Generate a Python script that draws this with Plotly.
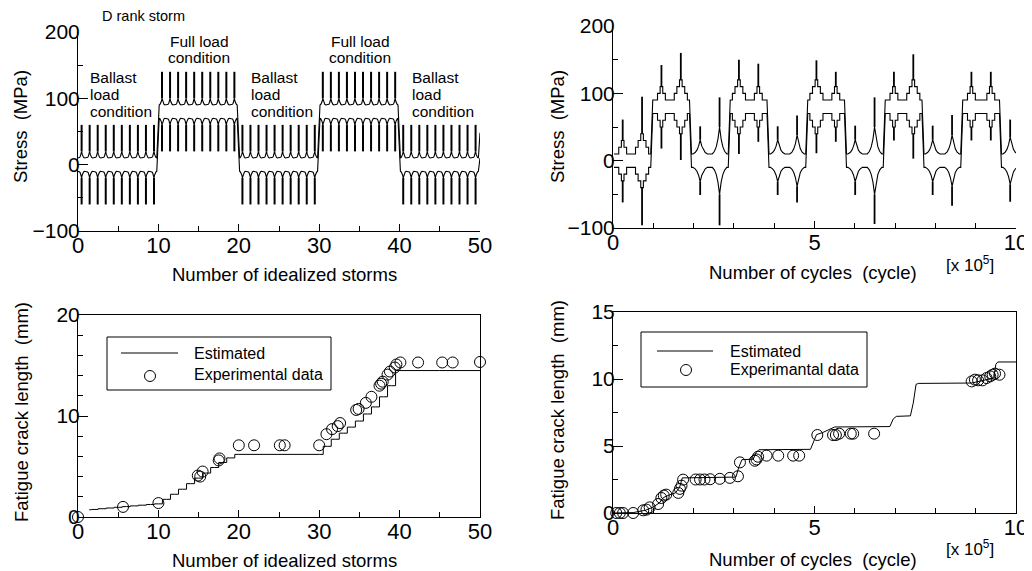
import plotly.graph_objects as go

# page is drawn with an 8 px body margin: figure size and pixel mapping account for it
OFF = 8
W, H = 1032 - OFF, 571 - OFF
FONT = "Liberation Sans, Arial, Helvetica, sans-serif"

# ---------------- data ----------------
# Top-left: stress envelope of the D rank storm sequence (50 idealized storms)
TL_BLOCK_MEAN = [0, 80, 0, 80, 0]          # mean stress per 10-storm block (ballast / full)
TL_STORMS_PER_BLOCK = 10
TL_BASE = 10        # envelope half range between storm peaks (MPa)
TL_CUSP = 20        # envelope half range at storm peak (MPa)
TL_SPIKE = 60       # max amplitude at storm peak (MPa)
TL_PEAK_POS = 0.45  # peak location inside a storm
TL_END_UP, TL_END_DN = 48, 10   # envelope values at the last storm end

# envelope shape around a storm peak (relative half-width, relative rise)
CUSP_DX = [-1.0, -0.7, -0.45, -0.22, 0.0]
CUSP_F = [0.0, 0.1, 0.27, 0.55, 1.0]

# Top-right: stress envelope vs number of cycles (x 1e5)
TR_BLOCK_LEN = 0.9615
TR_BLOCK_MEAN = [0, 80, 0, 80, 0, 80, 0, 80, 0, 80, 0]
TR_BLOCK_KIND = ["step", "step", "cusp", "step", "cusp", "step",
                 "cusp", "step", "cusp", "step", "cusp"]
TR_STORM_POS = [0.25, 0.75]
TR_SPIKE_UP = [61, 95, 142, 160, 51, 94, 150, 144, 51, 67, 149, 132,
               52, 94, 132, 158, 52, 68, 132, 132, 61]
TR_SPIKE_DN = [-62, -96, 18, 1, -51, -96, 10, 28, -51, -62, 11, 28,
               -51, -94, 30, 3, -51, -67, 30, 30, -61]
TR_LEVEL_UP = [30, 40, 110, 120, 31, 50, 120, 110, 31, 38, 120, 110,
               31, 50, 110, 120, 31, 38, 110, 110, 35]
TR_LEVEL_DN = [-30, -40, 50, 40, -31, -50, 40, 50, -31, -38, 40, 50,
               -31, -50, 50, 40, -31, -38, 50, 50, -35]
TR_HALF = 10
TR_STEP = 10

# Bottom-left: crack length vs storms
BL_EST_X = [1.4, 2, 3, 4, 5, 6, 7, 8, 9, 10, 11, 12, 13, 14, 15, 16, 17, 18, 19, 20,
            30, 31, 32, 33, 34, 35, 36, 37, 38, 39, 40, 50]
BL_EST_Y = [0.72, 0.75, 0.82, 0.89, 0.96, 1.03, 1.1, 1.17, 1.24, 1.3, 1.75, 2.25, 2.75,
            3.3, 3.85, 4.35, 4.9, 5.4, 5.85, 6.2,
            6.2, 7.0, 7.7, 8.3, 8.9, 9.5, 10.2, 10.9, 11.9, 13.0, 14.5, 14.5]
BL_EXP_X = [0, 5.6, 10.0, 14.9, 15.2, 15.5, 17.5, 17.6, 20.0, 21.9, 25.1, 25.7, 30.0,
            30.9, 31.6, 32.3, 32.6, 34.6, 34.9, 35.8, 36.5, 37.5, 37.7, 37.9, 38.5,
            38.8, 39.4, 39.6, 40.1, 42.3, 45.3, 46.6, 50.0]
BL_EXP_Y = [0, 1.0, 1.38, 4.1, 4.0, 4.5, 5.6, 5.8, 7.1, 7.1, 7.1, 7.1, 7.1,
            8.2, 8.7, 9.0, 9.3, 10.6, 10.7, 11.3, 11.9, 13.0, 13.2, 13.4, 14.1,
            14.4, 14.8, 15.1, 15.3, 15.3, 15.3, 15.3, 15.35]

# Bottom-right: crack length vs cycles (x 1e5)
BR_EST_X = [0, 0.5, 0.8, 1.0, 1.15, 1.25, 1.4, 1.55, 1.65, 1.72, 3.05, 3.12, 3.2, 3.48,
            3.55, 3.62, 4.9, 4.97, 5.05, 5.2, 5.4, 5.5, 6.87, 6.95, 7.03, 7.38, 7.45,
            7.52, 7.58, 8.9, 9.2, 9.45, 9.5, 9.55, 10.0]
BR_EST_Y = [0, 0.03, 0.2, 0.45, 0.75, 1.15, 1.35, 1.5, 1.9, 2.62, 2.68, 3.4, 3.98, 4.02,
            4.5, 4.72, 4.75, 5.3, 5.85, 6.0, 6.3, 6.42, 6.45, 7.0, 7.21, 7.25, 8.2,
            9.6, 9.67, 9.7, 9.9, 10.1, 11.1, 11.27, 11.27]
BR_EXP_X = [0.08, 0.17, 0.25, 0.5, 0.75, 0.83, 0.91, 1.12, 1.2, 1.26, 1.32, 1.62, 1.66,
            1.70, 1.74, 2.05, 2.16, 2.27, 2.41, 2.65, 2.9, 3.1, 3.15, 3.52, 3.56, 3.6,
            3.81, 4.1, 4.47, 4.62, 5.07, 5.46, 5.53, 5.61, 5.9, 5.96, 6.48,
            8.9, 8.98, 9.06, 9.17, 9.27, 9.36, 9.42, 9.48, 9.59]
BR_EXP_Y = [0, 0, 0, 0, 0.2, 0.25, 0.42, 0.67, 1.12, 1.3, 1.37, 1.5, 1.8,
            2.04, 2.49, 2.5, 2.5, 2.5, 2.52, 2.55, 2.62, 2.74, 3.78, 3.9, 4.0, 4.2,
            4.28, 4.28, 4.28, 4.28, 5.82, 5.82, 5.82, 5.92, 5.92, 5.92, 5.92,
            9.82, 9.95, 9.9, 9.9, 10.07, 10.2, 10.32, 10.4, 10.32]


# ---------------- helpers ----------------
def cusp_path(c, hw, base, peak):
    xs = [c + d * hw for d in CUSP_DX] + [c - d * hw for d in CUSP_DX[-2::-1]]
    ys = [base + f * (peak - base) for f in CUSP_F] + \
         [base + f * (peak - base) for f in CUSP_F[-2::-1]]
    return xs, ys


def step_path(c, w, base, level, step):
    k = max(1, round(abs(level - base) / step))
    sg = 1 if level > base else -1
    xs, ys = [], []
    for j in range(k - 1, -1, -1):
        x = c - (j + 0.5) * w
        xs += [x, x]
        ys += [base + sg * (k - j - 1) * step, base + sg * (k - j) * step]
    for j in range(k):
        x = c + (j + 0.5) * w
        xs += [x, x]
        ys += [base + sg * (k - j) * step, base + sg * (k - j - 1) * step]
    return xs, ys


def px(x):
    return (x - OFF) / W


def py(y):
    return 1 - (y - OFF) / H


# ---------------- top-left series ----------------
tl_ux, tl_uy, tl_dx, tl_dy = [0], [TL_BASE], [0], [-TL_BASE]
tl_sx, tl_su, tl_sd = [], [], []
for b, mean in enumerate(TL_BLOCK_MEAN):
    for j in range(TL_STORMS_PER_BLOCK):
        c = b * TL_STORMS_PER_BLOCK + j + TL_PEAK_POS
        xs, ys = cusp_path(c, 0.35, mean + TL_BASE, mean + TL_CUSP)
        tl_ux += xs; tl_uy += ys
        xs, ys = cusp_path(c, 0.35, mean - TL_BASE, mean - TL_CUSP)
        tl_dx += xs; tl_dy += ys
        tl_sx += [c, c, None]
        tl_su += [mean + TL_CUSP, mean + TL_SPIKE, None]
        tl_sd += [mean - TL_CUSP, mean - TL_SPIKE, None]
tl_ux.append(50); tl_uy.append(TL_END_UP)
tl_dx.append(50); tl_dy.append(TL_END_DN)

# ---------------- top-right series ----------------
tr_ux, tr_uy, tr_dx, tr_dy = [], [], [], []
tr_sx, tr_su, tr_sd = [], [], []
s = 0
for b, (mean, kind) in enumerate(zip(TR_BLOCK_MEAN, TR_BLOCK_KIND)):
    x0 = b * TR_BLOCK_LEN
    bu, bd = mean + TR_HALF, mean - TR_HALF
    tr_ux.append(x0 + 0.025); tr_uy.append(bu)
    tr_dx.append(x0 + 0.025); tr_dy.append(bd)
    for p in TR_STORM_POS:
        if s >= len(TR_SPIKE_UP):
            break
        c = x0 + p * TR_BLOCK_LEN
        if kind == "step":
            xs, ys = step_path(c, 0.065, bu, TR_LEVEL_UP[s], TR_STEP)
            tr_ux += xs; tr_uy += ys
            xs, ys = step_path(c, 0.065, bd, TR_LEVEL_DN[s], TR_STEP)
            tr_dx += xs; tr_dy += ys
        else:
            xs, ys = cusp_path(c, 0.18, bu, TR_LEVEL_UP[s])
            tr_ux += xs; tr_uy += ys
            xs, ys = cusp_path(c, 0.18, bd, TR_LEVEL_DN[s])
            tr_dx += xs; tr_dy += ys
        tr_sx += [c, c, None]
        tr_su += [TR_LEVEL_UP[s], TR_SPIKE_UP[s], None]
        tr_sd += [TR_LEVEL_DN[s], TR_SPIKE_DN[s], None]
        s += 1
    tr_ux.append(x0 + TR_BLOCK_LEN - 0.025); tr_uy.append(bu)
    tr_dx.append(x0 + TR_BLOCK_LEN - 0.025); tr_dy.append(bd)

# ---------------- figure ----------------
fig = go.Figure()
K = "black"
env = dict(color=K, width=1.1)
spk = dict(color=K, width=2)

fig.add_trace(go.Scatter(x=tl_ux, y=tl_uy, mode="lines", line=env, xaxis="x", yaxis="y"))
fig.add_trace(go.Scatter(x=tl_dx, y=tl_dy, mode="lines", line=env, xaxis="x", yaxis="y"))
fig.add_trace(go.Scatter(x=tl_sx, y=tl_su, mode="lines", line=spk, xaxis="x", yaxis="y"))
fig.add_trace(go.Scatter(x=tl_sx, y=tl_sd, mode="lines", line=spk, xaxis="x", yaxis="y"))

fig.add_trace(go.Scatter(x=tr_ux, y=tr_uy, mode="lines", line=env, xaxis="x2", yaxis="y2"))
fig.add_trace(go.Scatter(x=tr_dx, y=tr_dy, mode="lines", line=env, xaxis="x2", yaxis="y2"))
fig.add_trace(go.Scatter(x=tr_sx, y=tr_su, mode="lines", line=dict(color=K, width=1.8),
                         xaxis="x2", yaxis="y2"))
fig.add_trace(go.Scatter(x=tr_sx, y=tr_sd, mode="lines", line=dict(color=K, width=1.8),
                         xaxis="x2", yaxis="y2"))

mk = dict(symbol="circle-open", size=11, color=K, line=dict(width=1, color=K))
fig.add_trace(go.Scatter(x=BL_EST_X, y=BL_EST_Y, mode="lines", name="Estimated",
                         line=dict(color=K, width=1, shape="hvh"), xaxis="x3", yaxis="y3"))
fig.add_trace(go.Scatter(x=BL_EXP_X, y=BL_EXP_Y, mode="markers", name="Experimental data",
                         marker=mk, cliponaxis=False, xaxis="x3", yaxis="y3"))
fig.add_trace(go.Scatter(x=BR_EST_X, y=BR_EST_Y, mode="lines", name="Estimated",
                         line=dict(color=K, width=1), xaxis="x4", yaxis="y4"))
fig.add_trace(go.Scatter(x=BR_EXP_X, y=BR_EXP_Y, mode="markers", name="Experimantal data",
                         marker=mk, cliponaxis=False, xaxis="x4", yaxis="y4"))

XT = dict(family=FONT, size=22, color=K)
YT = dict(family=FONT, size=21, color=K)


def xax(dom, rng, dt, mdt, anchor, mirror=False):
    return dict(domain=dom, range=rng, dtick=dt, tick0=0, anchor=anchor,
                automargin=False,
                showline=True, linecolor=K, linewidth=1, mirror=mirror,
                ticks="inside", ticklen=7, tickcolor=K, tickwidth=1,
                minor=dict(dtick=mdt, ticks="inside", ticklen=5, tickcolor=K),
                showgrid=False, zeroline=False, tickfont=XT, ticklabelstandoff=-5)


def yax(dom, rng, dt, mdt, anchor, mirror=False):
    return dict(domain=dom, range=rng, dtick=dt, tick0=0, anchor=anchor,
                automargin=False,
                showline=True, linecolor=K, linewidth=1, mirror=mirror,
                ticks="inside", ticklen=10, tickcolor=K, tickwidth=1,
                minor=dict(dtick=mdt, ticks="inside", ticklen=5, tickcolor=K),
                showgrid=False, zeroline=False, tickfont=YT, ticklabelstandoff=-7)


XL = [px(78), px(480)]
XR = [px(613), px(1016)]
fig.update_layout(
    width=W, height=H, margin=dict(l=0, r=0, t=0, b=0, pad=0, autoexpand=False),
    paper_bgcolor="white", plot_bgcolor="white", showlegend=False,
    font=dict(family=FONT, color=K),
    xaxis=xax(XL, [0, 50], 10, 5, "y"),
    yaxis=yax([py(231), py(32)], [-100, 200], 100, 50, "x"),
    xaxis2=xax(XR, [0, 10], 5, 1, "y2"),
    yaxis2=yax([py(228), py(26)], [-100, 200], 100, 50, "x2"),
    xaxis3=xax(XL, [0, 50], 10, 5, "y3", True),
    yaxis3=yax([py(517), py(315)], [0, 20], 10, 2, "x3", True),
    xaxis4=xax(XR, [0, 10], 5, 1, "y4", True),
    yaxis4=yax([py(513), py(312)], [0, 15], 5, 2.5, "x4", True),
)

ann = []


def txt(t, x, y, size, xanchor="left", angle=0):
    ann.append(dict(text=t, x=px(x), y=py(y), xref="paper", yref="paper",
                    xanchor=xanchor, yanchor="middle", showarrow=False,
                    textangle=angle, font=dict(family=FONT, size=size, color=K)))


# axis titles
TS = 18.5
txt("Number of idealized storms", 284, 274, TS, "center")
txt("Number of idealized storms", 284, 560, TS, "center")
txt("Number of cycles  (cycle)", 813, 273, TS, "center")
txt("Number of cycles  (cycle)", 813, 559, TS, "center")
txt("Stress  (MPa)", 20, 127, TS, "center", -90)
txt("Stress  (MPa)", 557, 127, TS, "center", -90)
txt("Fatigue crack length  (mm)", 21, 412, TS, "center", -90)
txt("Fatigue crack length  (mm)", 557, 410, TS, "center", -90)
txt("[x 10<sup>5</sup>]", 970, 264, 17, "center")
txt("[x 10<sup>5</sup>]", 970, 548, 17, "center")

# condition labels
AS = 15.5
txt("D rank storm", 100, 16, 14.5)
for xl in (88, 249, 410):
    txt("Ballast", xl, 78, AS)
    txt("load", xl, 94.5, AS)
    txt("condition", xl, 111, AS)
for xc in (199, 360):
    txt("Full load", xc, 41, AS, "center")
    txt("condition", xc, 57, AS, "center")

# legends (drawn boxes)
shapes = []


def legend(box, line_y, lx0, lx1, cx, cy, tx, names, ty):
    x0, y0, x1, y1 = box
    shapes.append(dict(type="rect", xref="paper", yref="paper", x0=px(x0), x1=px(x1),
                       y0=py(y1), y1=py(y0), line=dict(color=K, width=1)))
    shapes.append(dict(type="line", xref="paper", yref="paper", x0=px(lx0), x1=px(lx1),
                       y0=py(line_y), y1=py(line_y), line=dict(color=K, width=1)))
    r = 5.5
    shapes.append(dict(type="circle", xref="paper", yref="paper", x0=px(cx - r),
                       x1=px(cx + r), y0=py(cy + r), y1=py(cy - r),
                       line=dict(color=K, width=1)))
    txt(names[0], tx, ty[0], 16)
    txt(names[1], tx, ty[1], 16)


legend((107, 337, 331, 390), 353, 121, 178, 150, 376, 192,
       ("Estimated", "Experimental data"), (353, 374))
legend((641, 332, 867, 387), 351, 657, 713, 686, 370, 728,
       ("Estimated", "Experimantal data"), (351, 369))

fig.update_layout(annotations=ann, shapes=shapes)
fig.write_html("out.html")
